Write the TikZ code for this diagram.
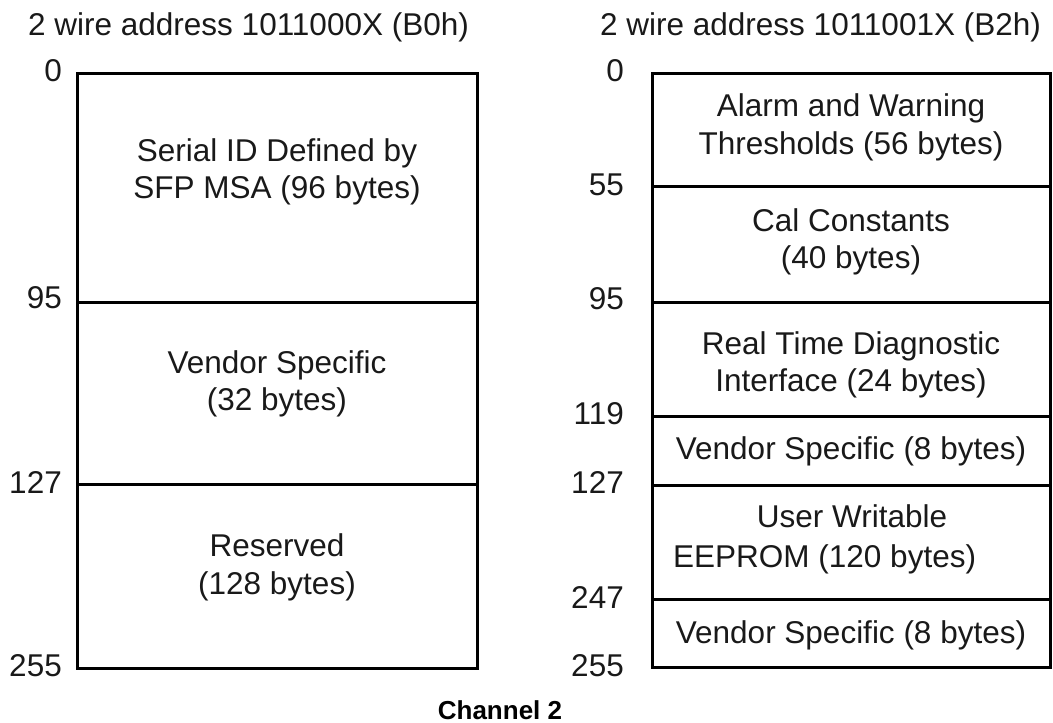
\documentclass[tikz,border=0pt]{standalone}
\usepackage{fontspec}
\setmainfont{Liberation Sans}
\begin{document}
\begin{tikzpicture}[x=1pt,y=-1pt,
  cell/.style={draw=black,line width=3pt},
  txt/.style={inner sep=0pt,anchor=base,font=\fontsize{31.5}{37.5}\selectfont,text=black!90},
  num/.style={inner sep=0pt,anchor=east,font=\fontsize{31.5}{37.5}\selectfont,text=black!90},
  ttl/.style={inner sep=0pt,anchor=base west,font=\fontsize{31.5}{37.5}\selectfont,text=black!90},
  captext/.style={inner sep=0pt,anchor=base,font=\fontsize{26}{30}\selectfont\bfseries,text=black}]
\useasboundingbox (0,0) rectangle (1053,723);
% titles
\node[ttl] (tl) at (28,35) {2 wire address 1011000X (B0h)};
\node[ttl] (tr) at (600,35) {2 wire address 1011001X (B2h)};
% left memory map
\draw[cell] (77,73) rectangle (477,302);
\draw[cell] (77,302) rectangle (477,484);
\draw[cell] (77,484) rectangle (477,668);
\node[txt] (l1a) at (277,161) {Serial ID Defined by};
\node[txt] (l1b) at (277,198) {SFP MSA (96 bytes)};
\node[txt] (l2a) at (277,373) {Vendor Specific};
\node[txt] (l2b) at (277,410) {(32 bytes)};
\node[txt] (l3a) at (277,556) {Reserved};
\node[txt] (l3b) at (277,594) {(128 bytes)};
\node[num] (n0) at (62,71) {0};
\node[num] (n95) at (62,298) {95};
\node[num] (n127) at (62,482) {127};
\node[num] (n255) at (62,666) {255};
% right memory map
\draw[cell] (652,73) rectangle (1050,186);
\draw[cell] (652,186) rectangle (1050,302);
\draw[cell] (652,302) rectangle (1050,416);
\draw[cell] (652,416) rectangle (1050,485);
\draw[cell] (652,485) rectangle (1050,599);
\draw[cell] (652,599) rectangle (1050,667);
\node[txt] (r1a) at (851,116) {Alarm and Warning};
\node[txt] (r1b) at (851,154) {Thresholds (56 bytes)};
\node[txt] (r2a) at (851,231) {Cal Constants};
\node[txt] (r2b) at (851,268) {(40 bytes)};
\node[txt] (r3a) at (851,354) {Real Time Diagnostic};
\node[txt] (r3b) at (851,391) {Interface (24 bytes)};
\node[txt] (r4) at (851,459) {Vendor Specific (8 bytes)};
\node[txt] (r5a) at (852,527) {User Writable};
\node[txt,anchor=base west] (r5b) at (673,567) {EEPROM (120 bytes)};
\node[txt] (r6) at (851,643) {Vendor Specific (8 bytes)};
\node[num] (m0) at (624,71) {0};
\node[num] (m55) at (624,185) {55};
\node[num] (m95) at (624,299) {95};
\node[num] (m119) at (624,414) {119};
\node[num] (m127) at (624,482) {127};
\node[num] (m247) at (624,597) {247};
\node[num] (m255) at (624,666) {255};
% caption
\node[captext] (ch) at (500,719) {Channel 2};
\end{tikzpicture}
\end{document}
